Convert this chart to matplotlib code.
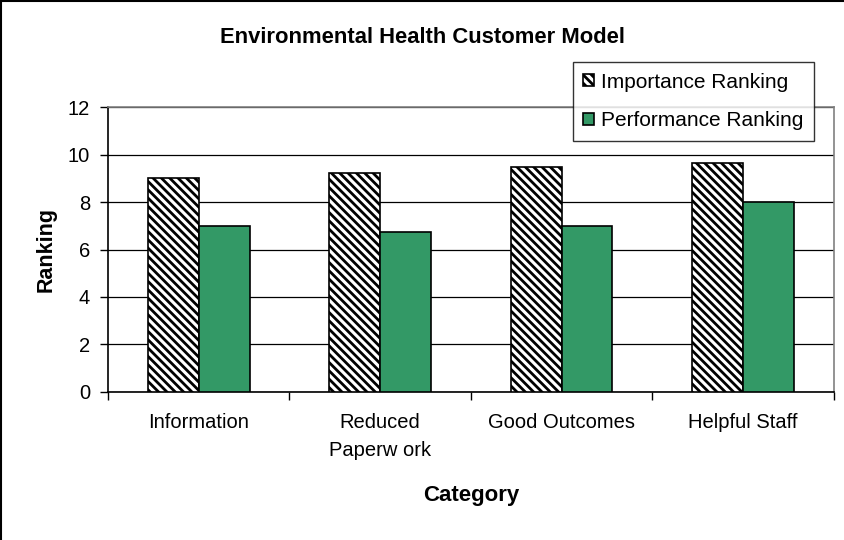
import matplotlib
matplotlib.use("Agg")
import matplotlib.pyplot as plt
from matplotlib.lines import Line2D
import numpy as np

categories = ["Information", "Reduced\nPaperw ork", "Good Outcomes", "Helpful Staff"]
importance = [9.0, 9.23, 9.5, 9.65]
performance = [7.0, 6.75, 7.0, 8.0]
series_names = ["Importance Ranking", "Performance Ranking"]
y_ticks = [0, 2, 4, 6, 8, 10, 12]

plt.rcParams["font.family"] = ["Liberation Sans", "DejaVu Sans"]
plt.rcParams["hatch.linewidth"] = 2.0

fig = plt.figure(figsize=(8.44, 5.40), dpi=100)
ax = fig.add_axes([0.128, 0.2746, 0.860, 0.5267])

x = np.arange(len(categories))
w = 0.28
green = "#339966"
ax.bar(x - w / 2, importance, w, facecolor="white", edgecolor="black",
       hatch="\\\\\\\\", linewidth=1.2, zorder=3, label=series_names[0])
ax.bar(x + w / 2, performance, w, facecolor=green, edgecolor="black",
       linewidth=1.2, zorder=3, label=series_names[1])

ax.set_xlim(-0.5, len(categories) - 0.5)
ax.set_ylim(0, 12)
ax.set_yticks(y_ticks)
ax.set_yticklabels([str(t) for t in y_ticks], fontsize=14.5)
ax.yaxis.grid(True, color="black", linewidth=0.9, zorder=0)
ax.set_axisbelow(True)

# category labels centred between boundary ticks
ax.set_xticks(np.arange(len(categories) + 1) - 0.5)
ax.set_xticklabels([])
ax.set_xticks(x, minor=True)
ax.set_xticklabels(categories, minor=True, fontsize=14.5, linespacing=1.6, va="top")
ax.tick_params(axis="x", which="minor", length=0, pad=15)
ax.tick_params(axis="x", which="major", length=6, width=1, direction="out")
ax.tick_params(axis="y", length=6, width=1, direction="out", pad=7)

for side in ("left", "bottom"):
    ax.spines[side].set_color("black")
    ax.spines[side].set_linewidth(1.2)
for side in ("top", "right"):
    ax.spines[side].set_color("#808080")
    ax.spines[side].set_linewidth(1.2)

ax.set_ylabel("Ranking", fontsize=15.5, fontweight="bold")
ax.yaxis.set_label_coords(-0.071, 0.5)
fig.text(0.558, 0.083, "Category", ha="center", va="center", fontsize=16, fontweight="bold")
fig.text(0.5, 0.931, "Environmental Health Customer Model", ha="center", va="center",
         fontsize=15.8, fontweight="bold")

leg = ax.legend(loc="upper left", bbox_to_anchor=(0.679, 0.885), bbox_transform=fig.transFigure,
                fontsize=15, frameon=True, fancybox=False, handlelength=0.5, handleheight=0.5,
                handletextpad=0.35, borderpad=0.5, labelspacing=0.95, borderaxespad=0)
leg.get_frame().set_edgecolor("black")
leg.get_frame().set_linewidth(1.0)
leg.set_zorder(5)

# chart-area border along left and top edges
fig.add_artist(Line2D([0.001, 0.001], [0, 1], color="black", linewidth=1.5, transform=fig.transFigure))
fig.add_artist(Line2D([0, 1], [0.999, 0.999], color="black", linewidth=1.5, transform=fig.transFigure))

fig.savefig("out.png", dpi=100)
